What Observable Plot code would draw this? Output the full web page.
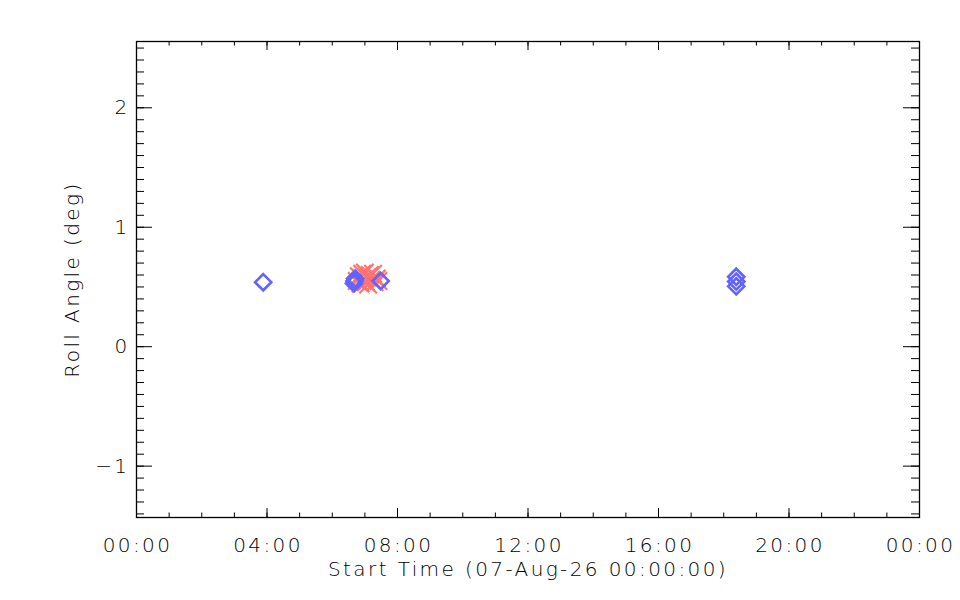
<!DOCTYPE html>
<html>
<head>
<meta charset="utf-8">
<script src="https://cdn.jsdelivr.net/npm/d3@7"></script>
<script src="https://cdn.jsdelivr.net/npm/@observablehq/plot@0.6"></script>
<style>
  html, body { margin: 0; padding: 0; background: #fff; }
  #chart svg { font-family: "DejaVu Sans", sans-serif; font-weight: 200; letter-spacing: 2.4px; }
</style>
</head>
<body>
<div id="chart"></div>
<script>
// ---- data ----
const day = "2026-08-07";
const blueTimes  = ["03:53", "06:40", "06:41", "06:42", "07:29", "18:23", "18:23", "18:23"];
const blueValues = [0.54, 0.53, 0.55, 0.57, 0.55, 0.585, 0.545, 0.505];
const redTimes  = ["06:45", "06:49", "06:52", "06:55", "06:58", "07:00", "07:02", "07:04", "07:06", "07:09", "07:12", "07:15", "07:18", "07:22", "07:25"];
const redValues = [0.55, 0.59, 0.53, 0.61, 0.56, 0.62, 0.54, 0.58, 0.52, 0.60, 0.56, 0.61, 0.54, 0.57, 0.55];
const xTickLabels = ["00:00", "04:00", "08:00", "12:00", "16:00", "20:00", "00:00"];
const yTickValues = [-1, 0, 1, 2];
const yDomain = [-1.43, 2.555];
const xLabel = "Start Time (07-Aug-26 00:00:00)";
const yLabel = "Roll Angle (deg)";

// ---- build ----
const parse = d3.utcParse("%Y-%m-%d %H:%M");
const t0 = parse(day + " 00:00");
const t1 = d3.utcDay.offset(t0, 1);
const blue = blueTimes.map((t, i) => ({t: parse(day + " " + t), v: blueValues[i]}));
const red = redTimes.map((t, i) => ({t: parse(day + " " + t), v: redValues[i]}));
const xMajor = xTickLabels.map((_, i) => d3.utcHour.offset(t0, 4 * i));
const xMinor = d3.utcHour.range(t0, t1).concat([t1]);
const yMinor = d3.range(-14, 26).map(k => k / 10);

const W = 960, H = 600, mL = 136, mR = 41, mT = 41, mB = 83;
const iw = W - mL - mR, ih = H - mT - mB;

const fmt = d => {
  const i = xMajor.findIndex(m => +m === +d);
  return i >= 0 ? xTickLabels[i] : "";
};

const chart = Plot.plot({
  width: W, height: H,
  marginLeft: mL, marginRight: mR, marginTop: mT, marginBottom: mB,
  style: {fontSize: "20px", color: "#000", background: "#fff"},
  x: {type: "utc", domain: [t0, t1]},
  y: {domain: yDomain},
  marks: [
    // axes (tick labels only)
    Plot.axisX({ticks: xMajor, tickSize: 0, tickPadding: 20, tickFormat: fmt, label: null, fontSize: 20, dx: 1}),
    Plot.axisY({ticks: yTickValues, tickSize: 0, tickPadding: 9, tickFormat: d3.format("d"), label: null, fontSize: 20, dx: 2}),
    // axis titles
    Plot.text([xLabel], {text: d => d, frameAnchor: "bottom", dy: 52, lineAnchor: "middle", textAnchor: "middle", fontSize: 20, fill: "#000"}),
    Plot.text([yLabel], {text: d => d, frameAnchor: "left", dx: -64, rotate: -90, lineAnchor: "middle", textAnchor: "middle", fontSize: 20, fill: "#000"}),
    // x ticks bottom/top
    Plot.tickX(xMajor, {x: d => d, insetTop: ih - 9, stroke: "black"}),
    Plot.tickX(xMajor, {x: d => d, insetBottom: ih - 9, stroke: "black"}),
    Plot.tickX(xMinor, {x: d => d, insetTop: ih - 4.5, stroke: "black"}),
    Plot.tickX(xMinor, {x: d => d, insetBottom: ih - 4.5, stroke: "black"}),
    // y ticks left/right
    Plot.tickY(yTickValues, {y: d => d, insetRight: iw - 16, stroke: "black"}),
    Plot.tickY(yTickValues, {y: d => d, insetLeft: iw - 16, stroke: "black"}),
    Plot.tickY(yMinor, {y: d => d, insetRight: iw - 8, stroke: "black"}),
    Plot.tickY(yMinor, {y: d => d, insetLeft: iw - 8, stroke: "black"}),
    // data
    Plot.dot(red, {x: "t", y: "v", symbol: "times", r: 8, stroke: "#ff7373", strokeWidth: 2.2}),
    Plot.dot(blue, {x: "t", y: "v", symbol: "diamond2", r: 7.3, stroke: "#6262ff", strokeWidth: 2.6}),
    Plot.frame({stroke: "black", strokeWidth: 1.3})
  ]
});
document.getElementById("chart").appendChild(chart);
</script>
</body>
</html>
